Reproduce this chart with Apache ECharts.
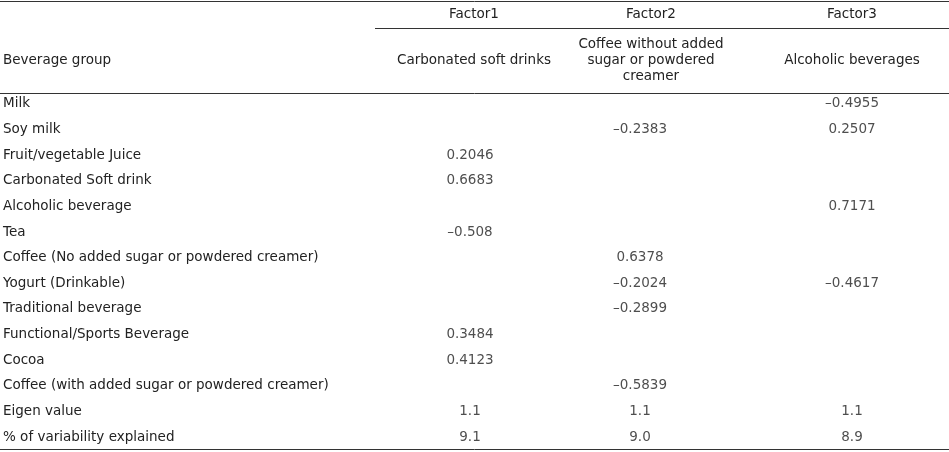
<!DOCTYPE html>
<html><head><meta charset="utf-8">
<script src="https://cdn.jsdelivr.net/npm/echarts@6/dist/echarts.min.js"></script>
<style>html,body{margin:0;background:#fff}#c{width:949px;height:452px}</style></head>
<body><div id="c"></div>
<script>
const rows = ["Milk","Soy milk","Fruit/vegetable Juice","Carbonated Soft drink","Alcoholic beverage","Tea","Coffee (No added sugar or powdered creamer)","Yogurt (Drinkable)","Traditional beverage","Functional/Sports Beverage","Cocoa","Coffee (with added sugar or powdered creamer)","Eigen value","% of variability explained"];
const factorNames = ["Factor1","Factor2","Factor3"];
const factorLabels = ["Carbonated soft drinks","Coffee without added\nsugar or powdered\ncreamer","Alcoholic beverages"];
const factor1 = [null,null,"0.2046","0.6683",null,"–0.508",null,null,null,"0.3484","0.4123",null,"1.1","9.1"];
const factor2 = [null,"–0.2383",null,null,null,null,"0.6378","–0.2024","–0.2899",null,null,"–0.5839","1.1","9.0"];
const factor3 = ["–0.4955","0.2507",null,null,"0.7171",null,null,"–0.4617",null,null,null,null,"1.1","8.9"];
const cols = [470, 640, 852];
const font = "'DejaVu Sans', sans-serif";
const fs = 13.5;
const tc = "#222";
function ser(vals, x){
  return {type:'scatter', symbolSize:0, silent:true,
    data: vals.map((v,i)=>v===null?null:{value:[x, rows[i]], txt:v}).filter(d=>d),
    label:{show:true, position:'inside', color:tc, fontSize:fs, fontFamily:font,
      formatter:p=>p.data.txt}};
}
const c = echarts.init(document.getElementById('c'));
const line=(x1,y,x2)=>({type:'line',shape:{x1,y1:y,x2,y2:y},style:{stroke:'#333',lineWidth:1}});
const txt=(x,y,t,align)=>({type:'text',x,y,style:{text:t,fill:tc,font:fs+'px '+font,textAlign:align||'center',textVerticalAlign:'middle',lineHeight:16}});
const graphic=[line(0,1.5,949),line(375,28.5,949),line(0,93.5,949),line(0,449.5,949),
  txt(3,60,"Beverage group",'left')];
factorNames.forEach((n,i)=>{graphic.push(txt([474,651,852][i],14,n));graphic.push(txt([474,651,852][i],60,factorLabels[i]));});
c.setOption({
  animation:false,
  grid:{left:0,right:0,top:91,bottom:2},
  xAxis:{type:'value',min:0,max:949,show:false},
  yAxis:{type:'category',data:rows,inverse:true,axisLine:{show:false},axisTick:{show:false},splitLine:{show:false},
    axisLabel:{inside:true,margin:3,align:'left',color:tc,fontSize:fs,fontFamily:font}},
  series:[ser(factor1,cols[0]),ser(factor2,cols[1]),ser(factor3,cols[2])],
  graphic
});
</script></body></html>
